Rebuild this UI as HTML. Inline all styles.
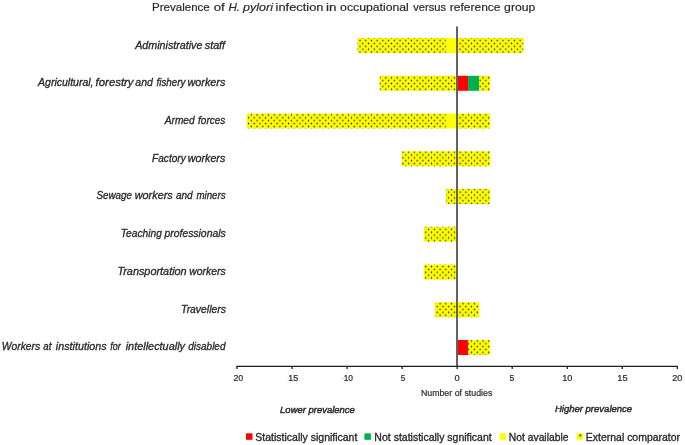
<!DOCTYPE html><html><head><meta charset="utf-8"><style>html,body{margin:0;padding:0;background:#fff;width:685px;height:445px;overflow:hidden}svg{display:block;will-change:transform}text{font-family:'Liberation Sans', sans-serif;stroke:#2b2b2b;stroke-width:0.32px}</style></head><body>
<svg width="685" height="445" viewBox="0 0 685 445">
<defs>
<pattern id="dots" patternUnits="userSpaceOnUse" x="358.57" y="39.17" width="5.72" height="5.72"><rect width="5.72" height="5.72" fill="#ffff00"/><ellipse cx="1.43" cy="1.43" rx="0.7" ry="0.95" fill="#2a2a08"/><ellipse cx="4.29" cy="4.29" rx="0.7" ry="0.95" fill="#2a2a08"/></pattern>
</defs>
<rect width="685" height="445" fill="#fff"/>
<text x="151.98" y="11.40" font-size="11.4" style="stroke-width:0.2px" fill="#2b2b2b" textLength="57.82" lengthAdjust="spacingAndGlyphs">Prevalence</text>
<text x="213.67" y="11.40" font-size="11.4" style="stroke-width:0.2px" fill="#2b2b2b" textLength="11.09" lengthAdjust="spacingAndGlyphs">of</text>
<text x="228.45" y="11.40" font-size="11.4" font-style="italic" style="stroke-width:0.2px" fill="#2b2b2b" textLength="11.65" lengthAdjust="spacingAndGlyphs">H.</text>
<text x="243.05" y="11.40" font-size="11.4" font-style="italic" style="stroke-width:0.2px" fill="#2b2b2b" textLength="29.99" lengthAdjust="spacingAndGlyphs">pylori</text>
<text x="275.60" y="11.40" font-size="11.4" style="stroke-width:0.2px" fill="#2b2b2b" textLength="47.83" lengthAdjust="spacingAndGlyphs">infection</text>
<text x="326.06" y="11.40" font-size="11.4" style="stroke-width:0.2px" fill="#2b2b2b" textLength="10.46" lengthAdjust="spacingAndGlyphs">in</text>
<text x="340.11" y="11.40" font-size="11.4" style="stroke-width:0.2px" fill="#2b2b2b" textLength="68.69" lengthAdjust="spacingAndGlyphs">occupational</text>
<text x="413.29" y="11.40" font-size="11.4" style="stroke-width:0.2px" fill="#2b2b2b" textLength="32.80" lengthAdjust="spacingAndGlyphs">versus</text>
<text x="449.76" y="11.40" font-size="11.4" style="stroke-width:0.2px" fill="#2b2b2b" textLength="50.78" lengthAdjust="spacingAndGlyphs">reference</text>
<text x="504.11" y="11.40" font-size="11.4" style="stroke-width:0.2px" fill="#2b2b2b" textLength="31.25" lengthAdjust="spacingAndGlyphs">group</text>
<rect x="357.46" y="38.02" width="88.48" height="15.00" fill="url(#dots)"/>
<rect x="445.94" y="38.02" width="11.06" height="15.00" fill="#ffff00"/>
<rect x="457.00" y="38.02" width="66.36" height="15.00" fill="url(#dots)"/>
<rect x="379.58" y="75.78" width="77.42" height="15.00" fill="url(#dots)"/>
<rect x="457.00" y="75.78" width="11.06" height="15.00" fill="#ff0000"/>
<rect x="468.06" y="75.78" width="11.06" height="15.00" fill="#00b050"/>
<rect x="479.12" y="75.78" width="11.06" height="15.00" fill="url(#dots)"/>
<rect x="246.86" y="113.53" width="199.08" height="15.00" fill="url(#dots)"/>
<rect x="445.94" y="113.53" width="11.06" height="15.00" fill="#ffff00"/>
<rect x="457.00" y="113.53" width="33.18" height="15.00" fill="url(#dots)"/>
<rect x="401.70" y="151.28" width="55.30" height="15.00" fill="url(#dots)"/>
<rect x="457.00" y="151.28" width="33.18" height="15.00" fill="url(#dots)"/>
<rect x="445.94" y="189.03" width="11.06" height="15.00" fill="url(#dots)"/>
<rect x="457.00" y="189.03" width="33.18" height="15.00" fill="url(#dots)"/>
<rect x="423.82" y="226.78" width="33.18" height="15.00" fill="url(#dots)"/>
<rect x="423.82" y="264.52" width="33.18" height="15.00" fill="url(#dots)"/>
<rect x="434.88" y="302.27" width="22.12" height="15.00" fill="url(#dots)"/>
<rect x="457.00" y="302.27" width="22.12" height="15.00" fill="url(#dots)"/>
<rect x="457.00" y="340.02" width="11.06" height="15.00" fill="#ff0000"/>
<rect x="468.06" y="340.02" width="22.12" height="15.00" fill="url(#dots)"/>
<line x1="457.00" y1="26.4" x2="457.00" y2="366.5" stroke="#636363" stroke-width="2"/>
<line x1="236.39" y1="366.3" x2="677.95" y2="366.3" stroke="#1e1e1e" stroke-width="1.2"/>
<line x1="236.99" y1="366.3" x2="236.99" y2="369.1" stroke="#1e1e1e" stroke-width="1.3"/>
<line x1="292.04" y1="366.3" x2="292.04" y2="369.1" stroke="#1e1e1e" stroke-width="1.3"/>
<line x1="347.08" y1="366.3" x2="347.08" y2="369.1" stroke="#1e1e1e" stroke-width="1.3"/>
<line x1="402.12" y1="366.3" x2="402.12" y2="369.1" stroke="#1e1e1e" stroke-width="1.3"/>
<line x1="457.17" y1="366.3" x2="457.17" y2="369.1" stroke="#1e1e1e" stroke-width="1.3"/>
<line x1="512.22" y1="366.3" x2="512.22" y2="369.1" stroke="#1e1e1e" stroke-width="1.3"/>
<line x1="567.26" y1="366.3" x2="567.26" y2="369.1" stroke="#1e1e1e" stroke-width="1.3"/>
<line x1="622.31" y1="366.3" x2="622.31" y2="369.1" stroke="#1e1e1e" stroke-width="1.3"/>
<line x1="677.35" y1="366.3" x2="677.35" y2="369.1" stroke="#1e1e1e" stroke-width="1.3"/>
<text x="233.46" y="381.20" font-size="8.7" style="stroke-width:0.22px" fill="#2b2b2b" textLength="9.81" lengthAdjust="spacingAndGlyphs">20</text>
<text x="288.18" y="381.20" font-size="8.7" style="stroke-width:0.22px" fill="#2b2b2b" textLength="10.00" lengthAdjust="spacingAndGlyphs">15</text>
<text x="343.63" y="381.20" font-size="8.7" style="stroke-width:0.22px" fill="#2b2b2b" textLength="9.33" lengthAdjust="spacingAndGlyphs">10</text>
<text x="400.78" y="381.20" font-size="8.7" style="stroke-width:0.22px" fill="#2b2b2b" textLength="4.50" lengthAdjust="spacingAndGlyphs">5</text>
<text x="454.53" y="381.20" font-size="8.7" style="stroke-width:0.22px" fill="#2b2b2b" textLength="5.21" lengthAdjust="spacingAndGlyphs">0</text>
<text x="509.56" y="381.20" font-size="8.7" style="stroke-width:0.22px" fill="#2b2b2b" textLength="4.73" lengthAdjust="spacingAndGlyphs">5</text>
<text x="562.26" y="381.20" font-size="8.7" style="stroke-width:0.22px" fill="#2b2b2b" textLength="10.22" lengthAdjust="spacingAndGlyphs">10</text>
<text x="617.26" y="381.20" font-size="8.7" style="stroke-width:0.22px" fill="#2b2b2b" textLength="10.34" lengthAdjust="spacingAndGlyphs">15</text>
<text x="672.24" y="381.20" font-size="8.7" style="stroke-width:0.22px" fill="#2b2b2b" textLength="10.14" lengthAdjust="spacingAndGlyphs">20</text>
<rect x="232.4" y="378.2" width="1.1" height="1" fill="#d8d8d8"/>
<rect x="287.5" y="378.2" width="1.1" height="1" fill="#c4c4c4"/>
<rect x="342.6" y="378.2" width="1.1" height="1" fill="#aaa"/>
<text x="420.90" y="396.30" font-size="8.8" style="stroke-width:0.2px" fill="#2b2b2b" textLength="71.41" lengthAdjust="spacingAndGlyphs">Number of studies</text>
<text x="280.12" y="412.70" font-size="9.4" font-style="italic" style="stroke-width:0.45px" fill="#2b2b2b" textLength="74.70" lengthAdjust="spacingAndGlyphs">Lower prevalence</text>
<text x="554.91" y="411.50" font-size="9.4" font-style="italic" style="stroke-width:0.45px" fill="#2b2b2b" textLength="77.23" lengthAdjust="spacingAndGlyphs">Higher prevalence</text>
<text x="135.23" y="48.70" font-size="10.4" font-style="italic" fill="#2b2b2b" textLength="67.19" lengthAdjust="spacingAndGlyphs">Administrative</text>
<text x="204.80" y="48.70" font-size="10.4" font-style="italic" fill="#2b2b2b" textLength="20.24" lengthAdjust="spacingAndGlyphs">staff</text>
<text x="38.03" y="86.40" font-size="10.4" font-style="italic" fill="#2b2b2b" textLength="55.53" lengthAdjust="spacingAndGlyphs">Agricultural,</text>
<text x="95.64" y="86.40" font-size="10.4" font-style="italic" fill="#2b2b2b" textLength="37.93" lengthAdjust="spacingAndGlyphs">forestry</text>
<text x="135.39" y="86.40" font-size="10.4" font-style="italic" fill="#2b2b2b" textLength="17.49" lengthAdjust="spacingAndGlyphs">and</text>
<text x="156.51" y="86.40" font-size="10.4" font-style="italic" fill="#2b2b2b" textLength="28.95" lengthAdjust="spacingAndGlyphs">fishery</text>
<text x="187.46" y="86.40" font-size="10.4" font-style="italic" fill="#2b2b2b" textLength="37.86" lengthAdjust="spacingAndGlyphs">workers</text>
<text x="164.81" y="124.10" font-size="10.4" font-style="italic" fill="#2b2b2b" textLength="29.84" lengthAdjust="spacingAndGlyphs">Armed</text>
<text x="198.10" y="124.10" font-size="10.4" font-style="italic" fill="#2b2b2b" textLength="27.23" lengthAdjust="spacingAndGlyphs">forces</text>
<text x="152.10" y="161.90" font-size="10.4" font-style="italic" fill="#2b2b2b" textLength="33.64" lengthAdjust="spacingAndGlyphs">Factory</text>
<text x="187.76" y="161.90" font-size="10.4" font-style="italic" fill="#2b2b2b" textLength="37.56" lengthAdjust="spacingAndGlyphs">workers</text>
<text x="96.51" y="199.40" font-size="10.4" font-style="italic" fill="#2b2b2b" textLength="35.43" lengthAdjust="spacingAndGlyphs">Sewage</text>
<text x="134.76" y="199.40" font-size="10.4" font-style="italic" fill="#2b2b2b" textLength="37.97" lengthAdjust="spacingAndGlyphs">workers</text>
<text x="175.90" y="199.40" font-size="10.4" font-style="italic" fill="#2b2b2b" textLength="16.79" lengthAdjust="spacingAndGlyphs">and</text>
<text x="196.41" y="199.40" font-size="10.4" font-style="italic" fill="#2b2b2b" textLength="29.09" lengthAdjust="spacingAndGlyphs">miners</text>
<text x="120.78" y="237.10" font-size="10.4" font-style="italic" fill="#2b2b2b" textLength="41.04" lengthAdjust="spacingAndGlyphs">Teaching</text>
<text x="164.51" y="237.10" font-size="10.4" font-style="italic" fill="#2b2b2b" textLength="61.22" lengthAdjust="spacingAndGlyphs">professionals</text>
<text x="117.42" y="274.80" font-size="10.4" font-style="italic" fill="#2b2b2b" textLength="69.25" lengthAdjust="spacingAndGlyphs">Transportation</text>
<text x="189.28" y="274.80" font-size="10.4" font-style="italic" fill="#2b2b2b" textLength="36.44" lengthAdjust="spacingAndGlyphs">workers</text>
<text x="181.07" y="312.60" font-size="10.4" font-style="italic" fill="#2b2b2b" textLength="44.80" lengthAdjust="spacingAndGlyphs">Travellers</text>
<text x="1.77" y="350.30" font-size="10.4" font-style="italic" fill="#2b2b2b" textLength="38.46" lengthAdjust="spacingAndGlyphs">Workers</text>
<text x="43.31" y="350.30" font-size="10.4" font-style="italic" fill="#2b2b2b" textLength="8.05" lengthAdjust="spacingAndGlyphs">at</text>
<text x="55.89" y="350.30" font-size="10.4" font-style="italic" fill="#2b2b2b" textLength="50.68" lengthAdjust="spacingAndGlyphs">institutions</text>
<text x="110.14" y="350.30" font-size="10.4" font-style="italic" fill="#2b2b2b" textLength="10.56" lengthAdjust="spacingAndGlyphs">for</text>
<text x="125.68" y="350.30" font-size="10.4" font-style="italic" fill="#2b2b2b" textLength="59.35" lengthAdjust="spacingAndGlyphs">intellectually</text>
<text x="188.30" y="350.30" font-size="10.4" font-style="italic" fill="#2b2b2b" textLength="37.15" lengthAdjust="spacingAndGlyphs">disabled</text>
<defs><pattern id="dots2" patternUnits="userSpaceOnUse" x="576.8" y="433.2" width="6.6" height="6.6"><rect width="6.6" height="6.6" fill="#ffff00"/><ellipse cx="3.5" cy="2.2" rx="0.8" ry="1.25" fill="#2a2a08"/></pattern></defs>
<rect x="246.00" y="433.3" width="6.5" height="6.5" fill="#ff0000"/>
<text x="255.38" y="440.90" font-size="10.1" fill="#2b2b2b" textLength="101.99" lengthAdjust="spacingAndGlyphs">Statistically significant</text>
<rect x="364.40" y="433.3" width="6.5" height="6.5" fill="#00b050"/>
<text x="374.36" y="440.90" font-size="10.1" fill="#2b2b2b" textLength="117.36" lengthAdjust="spacingAndGlyphs">Not statistically sgnificant</text>
<rect x="499.60" y="433.3" width="6.5" height="6.5" fill="#ffff00"/>
<text x="508.88" y="440.90" font-size="10.1" fill="#2b2b2b" textLength="59.55" lengthAdjust="spacingAndGlyphs">Not available</text>
<rect x="576.80" y="433.3" width="6.5" height="6.5" fill="url(#dots2)"/>
<text x="585.86" y="440.90" font-size="10.1" fill="#2b2b2b" textLength="94.18" lengthAdjust="spacingAndGlyphs">External comparator</text>
</svg></body></html>
